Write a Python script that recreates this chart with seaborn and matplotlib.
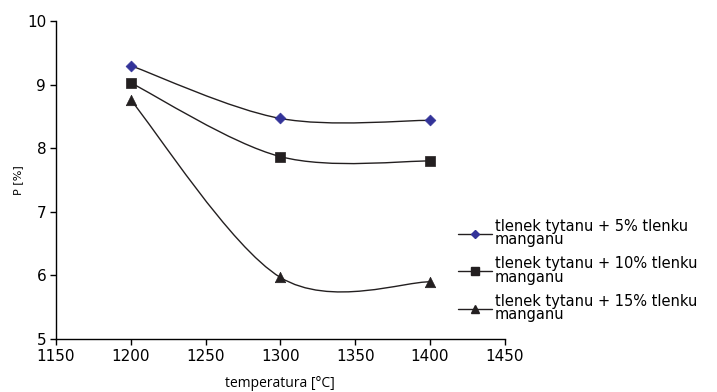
import numpy as np
import pandas as pd
import matplotlib
matplotlib.use("Agg")
import matplotlib.pyplot as plt
import seaborn as sns
from matplotlib.path import Path
from matplotlib.patches import PathPatch
from matplotlib.lines import Line2D

temperature = [1200, 1300, 1400]
p_5 = [9.30, 8.47, 8.44]
p_10 = [9.03, 7.87, 7.80]
p_15 = [8.76, 5.97, 5.90]
series_labels = [
    "tlenek tytanu + 5% tlenku\nmanganu",
    "tlenek tytanu + 10% tlenku\nmanganu",
    "tlenek tytanu + 15% tlenku\nmanganu",
]

sns.set_theme(style="ticks")
plt.rcParams['font.family'] = ['DejaVu Sans']
plt.rcParams['text.color'] = 'black'
plt.rcParams['axes.labelcolor'] = 'black'

fig = plt.figure(figsize=(7.17, 3.92), dpi=100)
ax = fig.add_axes([0.078, 0.135, 0.626, 0.811])

line_col = "#231f20"
styles = [
    dict(marker="D", color="#333399", size=5.5),
    dict(marker="s", color=line_col, size=6.5),
    dict(marker="^", color=line_col, size=7.5),
]


def smooth_path(xs, ys):
    pts = np.column_stack([xs, ys]).astype(float)
    n = len(pts)
    verts = [pts[0]]
    codes = [Path.MOVETO]
    for i in range(n - 1):
        p0 = pts[i - 1] if i > 0 else pts[i]
        p1 = pts[i]
        p2 = pts[i + 1]
        p3 = pts[i + 2] if i + 2 < n else pts[i + 1]
        c1 = p1 + (p2 - p0) / 6.0
        c2 = p2 - (p3 - p1) / 6.0
        verts += [c1, c2, p2]
        codes += [Path.CURVE4] * 3
    return Path(verts, codes)


handles = []
for ys, st, lab in zip([p_5, p_10, p_15], styles, series_labels):
    ax.add_patch(PathPatch(smooth_path(temperature, ys), fill=False,
                           edgecolor=line_col, lw=1.0, zorder=2))
    df = pd.DataFrame({"x": temperature, "y": ys})
    sns.scatterplot(data=df, x="x", y="y", marker=st["marker"], color=st["color"],
                    edgecolor=st["color"], s=st["size"] ** 2, linewidth=0.5,
                    ax=ax, zorder=3, legend=False)
    handles.append(Line2D([], [], color=line_col, lw=1.0, marker=st["marker"],
                          markerfacecolor=st["color"], markeredgecolor=st["color"],
                          markersize=st["size"] * 0.8, label=lab))

ax.set_xlim(1150, 1450)
ax.set_ylim(5, 10)
ax.set_xticks([1150, 1200, 1250, 1300, 1350, 1400, 1450])
ax.set_yticks([5, 6, 7, 8, 9, 10])
ax.tick_params(axis="both", direction="out", length=4, width=1, labelsize=11,
               colors="black", pad=3)
for s in ["top", "right"]:
    ax.spines[s].set_visible(False)
for s in ["left", "bottom"]:
    ax.spines[s].set_color("black")
    ax.spines[s].set_linewidth(1.0)
ax.set_xlabel("temperatura [°C]", fontsize=10, labelpad=9, family="Open Sans",
              color="black")
ax.set_ylabel("P [%]", fontsize=8, labelpad=3, color="black")

leg = fig.legend(handles=handles, loc="upper left", bbox_to_anchor=(0.621, 0.476),
                 frameon=False, handlelength=2.3, handletextpad=0.2,
                 labelspacing=0.6, prop={"family": "DejaVu Sans", "size": 10.5})
for t in leg.get_texts():
    t.set_linespacing(0.9)
    t.set_color("black")

fig.savefig("out.png", dpi=100)
